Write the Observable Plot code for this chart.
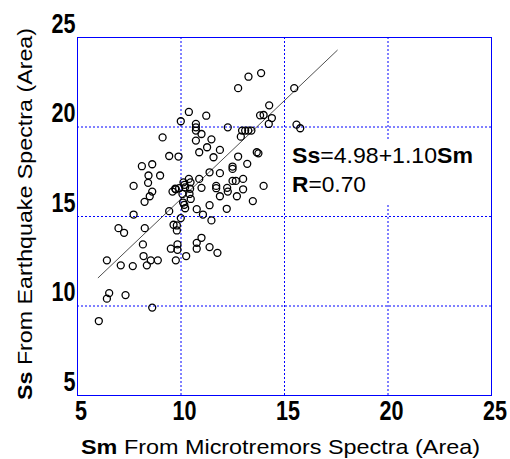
<!DOCTYPE html>
<html>
<head>
<meta charset="utf-8">
<script src="https://cdn.jsdelivr.net/npm/d3@7"></script>
<script src="https://cdn.jsdelivr.net/npm/@observablehq/plot@0.6"></script>
<style>
  html, body { margin: 0; padding: 0; background: #fff; }
  #chart svg { display: block; }
</style>
</head>
<body>
<div id="chart"></div>
<script>
// Sm (microtremor spectra area) values
const sm = [
  13.87, 13.26, 12.76, 15.47, 14.26, 10.38, 11.22, 9.99, 13.82, 13.99,
  14.39, 14.24, 10.72, 10.72, 10.72, 12.26, 15.58, 15.76, 10.99, 12.89,
  12.95, 13.10, 13.25, 13.40, 9.11, 11.47, 10.72, 11.26, 10.88, 11.88,
  11.57, 9.43, 9.88, 13.66, 13.74, 12.76, 13.20, 8.11, 8.61, 12.49,
  12.49, 11.38, 11.88, 8.99, 8.43, 13.00, 10.38, 10.88, 12.65, 12.49,
  8.41, 7.71, 10.46, 13.99, 10.17, 10.99, 11.70, 11.70, 12.23, 13.00,
  9.91, 9.75, 9.59, 8.61, 10.07, 10.41, 8.49, 12.26, 11.88, 12.70,
  10.47, 8.24, 10.10, 13.47, 11.38, 10.20, 10.76, 12.21, 9.43, 11.06,
  7.71, 9.99, 11.47, 6.98, 7.25, 8.25, 9.64, 9.80, 9.80, 10.99,
  8.16, 10.76, 11.38, 9.83, 9.51, 9.83, 10.76, 11.76, 10.25, 8.19,
  6.42, 7.09, 7.67, 8.35, 8.54, 8.88, 9.75, 6.53, 6.42, 7.32,
  8.61, 6.03, 10.12, 10.20, 10.44, 9.72, 10.16
];
// Ss (earthquake spectra area) values
const ss = [
  23.01, 22.81, 22.17, 22.17, 21.21, 20.84, 20.63, 20.32, 20.65, 20.67,
  20.50, 20.17, 20.17, 19.98, 19.80, 19.98, 20.13, 19.93, 19.61, 19.46,
  19.80, 19.80, 19.80, 19.80, 19.42, 19.31, 19.24, 18.87, 18.59, 18.72,
  18.31, 18.38, 18.35, 18.59, 18.53, 18.35, 17.94, 17.81, 17.92, 17.79,
  17.66, 17.47, 17.42, 17.29, 17.29, 17.10, 17.10, 17.10, 16.99, 16.99,
  16.88, 16.71, 16.91, 16.71, 16.77, 16.60, 16.71, 16.58, 16.60, 16.52,
  16.58, 16.52, 16.39, 16.39, 16.26, 16.26, 16.13, 16.39, 16.13, 16.13,
  15.98, 15.82, 15.78, 15.86, 15.63, 15.46, 15.41, 15.43, 15.30, 15.11,
  15.11, 14.91, 14.78, 14.35, 14.09, 14.35, 14.54, 14.50, 14.22, 13.81,
  13.44, 13.53, 13.29, 13.44, 13.20, 13.14, 13.20, 12.97, 12.79, 12.79,
  12.55, 12.27, 12.23, 12.27, 12.55, 12.55, 12.55, 10.72, 10.41, 10.61,
  9.91, 9.16, 16.91, 16.63, 16.55, 16.55, 15.65
];
// Regression: Ss = 4.98 + 1.10 Sm, drawn over this Sm span
const regIntercept = 4.98;
const regSlope = 1.10;
const regSpan = [6.0, 17.55];
const xTicks = [5, 10, 15, 20, 25];
const yTicks = [5, 10, 15, 20, 25];
const gridTicks = [10, 15, 20];

const points = sm.map((x, i) => ({x, y: ss[i]}));
const regLine = regSpan.map(x => ({x, y: regIntercept + regSlope * x}));

const tickFont = '"Liberation Sans", Arial, sans-serif';
const blue = "#0000ff";

const plot = Plot.plot({
  width: 510,
  height: 459,
  marginLeft: 77,
  marginRight: 19,
  marginTop: 37,
  marginBottom: 64,
  style: {background: "#fff", color: "#000", fontFamily: "Liberation Sans, Arial, sans-serif"},
  x: {domain: [5, 25], label: null},
  y: {domain: [5, 25], label: null},
  marks: [
    Plot.gridX(gridTicks, {stroke: blue, strokeOpacity: 1, strokeWidth: 1, strokeDasharray: "2,2"}),
    Plot.gridY(gridTicks, {stroke: blue, strokeOpacity: 1, strokeWidth: 1, strokeDasharray: "2,2"}),
    Plot.frame({stroke: blue, strokeWidth: 1}),
    Plot.line(regLine, {x: "x", y: "y", stroke: "#222", strokeWidth: 0.8}),
    Plot.dot(points, {x: "x", y: "y", r: 3.5, stroke: "#000", strokeWidth: 1.3, fill: "none"}),
    Plot.axisX(xTicks, {tickSize: 0, tickPadding: 5, dx: 3.5, fontSize: 24, fontWeight: "bold", fontFamily: tickFont, fill: "#000", label: null}),
    Plot.axisY(yTicks, {tickSize: 0, tickPadding: 2, dy: -13.6, fontSize: 24, fontWeight: "bold", fontFamily: tickFont, fill: "#000", label: null})
  ]
});

document.getElementById("chart").append(plot);

const svg = d3.select(plot);

// condensed, taller tick digits like the reference
svg.selectAll('g[aria-label="x-axis tick label"] text, g[aria-label="y-axis tick label"] text')
  .each(function() {
    const t = this.getAttribute("transform") || "";
    this.setAttribute("transform", t + " scale(0.9,1.12)");
  });

const labelFont = '"Liberation Sans", Arial, sans-serif';

// white box behind the equation annotation
svg.append("rect").attr("x", 288).attr("y", 140).attr("width", 200).attr("height", 63).attr("fill", "#fff");

const eq1 = svg.append("text").attr("x", 292).attr("y", 163).attr("text-anchor", "start")
  .attr("font-family", labelFont).attr("font-size", 22).attr("fill", "#000")
  .attr("textLength", 181).attr("lengthAdjust", "spacingAndGlyphs");
eq1.append("tspan").attr("font-weight", "bold").text("Ss");
eq1.append("tspan").text("=4.98+1.10");
eq1.append("tspan").attr("font-weight", "bold").text("Sm");

const eq2 = svg.append("text").attr("x", 292).attr("y", 192).attr("text-anchor", "start")
  .attr("font-family", labelFont).attr("font-size", 22).attr("fill", "#000")
  .attr("textLength", 74).attr("lengthAdjust", "spacingAndGlyphs");
eq2.append("tspan").attr("font-weight", "bold").text("R");
eq2.append("tspan").text("=0.70");

// x axis title
const xl = svg.append("text").attr("x", 81).attr("y", 454).attr("text-anchor", "start")
  .attr("font-family", labelFont).attr("font-size", 21).attr("fill", "#000")
  .attr("textLength", 399).attr("lengthAdjust", "spacingAndGlyphs");
xl.append("tspan").attr("font-weight", "bold").text("Sm");
xl.append("tspan").text(" From Microtremors Spectra (Area)");

// y axis title
const yl = svg.append("text").attr("transform", "translate(31.5,400) rotate(-90)")
  .attr("x", 0).attr("y", 0).attr("text-anchor", "start")
  .attr("font-family", labelFont).attr("font-size", 21).attr("fill", "#000")
  .attr("textLength", 372).attr("lengthAdjust", "spacingAndGlyphs");
yl.append("tspan").attr("font-weight", "bold").text("Ss");
yl.append("tspan").text(" From Earthquake Spectra (Area)");
</script>
</body>
</html>
